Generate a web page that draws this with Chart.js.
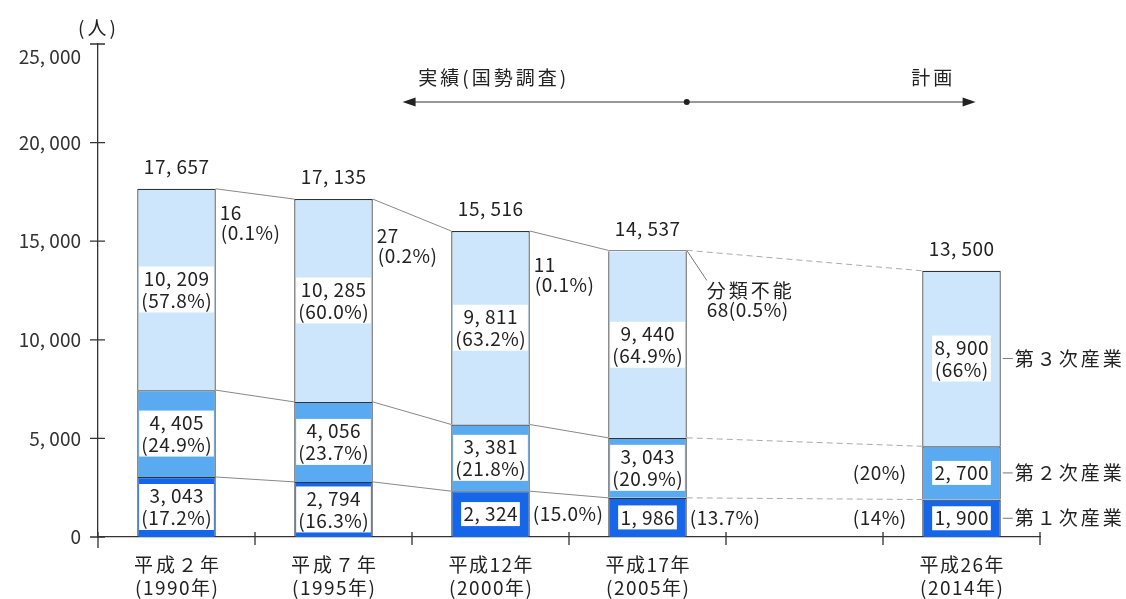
<!DOCTYPE html>
<html lang="ja">
<head>
<meta charset="utf-8">
<title>産業別就業者数の推移</title>
<script src="https://cdn.jsdelivr.net/npm/chart.js@4.4.1/dist/chart.umd.min.js"></script>
<style>
  html, body { margin: 0; padding: 0; background: #fff; }
  #wrap { width: 1126px; height: 599px; position: relative; }
</style>
</head>
<body>
<div id="wrap"><canvas id="workersChart"></canvas></div>
<script>
// 年次（5番目は実績と計画の間の空き）
const years = [["平成２年", "(1990年)"], ["平成７年", "(1995年)"], ["平成12年", "(2000年)"], ["平成17年", "(2005年)"], "", ["平成26年", "(2014年)"]];
// 産業別就業者数（人）
const primary = [3043, 2794, 2324, 1986, null, 1900];
const secondary = [4405, 4056, 3381, 3043, null, 2700];
const tertiary = [10209, 10285, 9811, 9440, null, 8900];
const unclassified = [null, null, null, 68, null, null];
const totals = [17657, 17135, 15516, 14537, null, 13500];
// 構成比
const primaryShare = ["17.2%", "16.3%", "15.0%", "13.7%", null, "14%"];
const secondaryShare = ["24.9%", "23.7%", "21.8%", "20.9%", null, "20%"];
const tertiaryShare = ["57.8%", "60.0%", "63.2%", "64.9%", null, "66%"];
// 分類不能
const unclassifiedCount = [16, 27, 11, 68];
const unclassifiedShare = ["0.1%", "0.2%", "0.1%", "0.5%"];
const industryNames = ["第１次産業", "第２次産業", "第３次産業"];
const yTicks = [0, 5000, 10000, 15000, 20000, 25000];

const PLAN = 5;
const FONT = '"Noto Sans CJK JP", "Noto Sans", sans-serif';
const fmt = v => v.toLocaleString("en-US").replace(",", ", ");

function drawText(ctx, str, x, y, opt = {}) {
  const size = opt.size || 19, sp = opt.spacing || 0, align = opt.align || "center";
  ctx.font = `${size}px ${FONT}`;
  ctx.letterSpacing = sp + "px";
  ctx.textAlign = align;
  ctx.textBaseline = "middle";
  ctx.fillStyle = opt.color || "#222";
  const dx = align === "center" ? sp / 2 : align === "right" ? sp : 0;
  ctx.fillText(str, x + dx, y);
}

// 白抜きの数値ラベル
function boxedLines(ctx, lines, cx, cy) {
  ctx.font = `19px ${FONT}`;
  ctx.letterSpacing = "0.5px";
  const w = Math.max(...lines.map(l => ctx.measureText(l).width)) + 4;
  const lh = 22, h = lines.length * lh + 2;
  ctx.fillStyle = "#fff";
  ctx.fillRect(cx - w / 2, cy - h / 2, w, h);
  lines.forEach((l, k) => drawText(ctx, l, cx, cy - (lines.length - 1) * lh / 2 + k * lh, {spacing: 0.5}));
}

// 構成比を棒の外に出す箇所
const shareOutside = {0: {2: "right", 3: "right", 5: "left"}, 1: {5: "left"}};
const noteDrop = [24, 37, 34];

function stackTop(chart, i) {
  let sum = 0;
  chart.data.datasets.forEach(ds => { sum += ds.data[i] || 0; });
  return chart.scales.y.getPixelForValue(sum);
}

const annotations = {
  id: "annotations",
  beforeDatasetsDraw(chart) {
    const {ctx} = chart;
    const bar = (d, i) => chart.getDatasetMeta(d).data[i];
    const order = [0, 1, 2, 3, PLAN];
    ctx.save();
    ctx.lineWidth = 1;
    for (let k = 0; k < order.length - 1; k++) {
      const a = order[k], b = order[k + 1];
      const plan = b === PLAN;
      ctx.strokeStyle = plan ? "#aaa" : "#888";
      ctx.setLineDash(plan ? [6, 4] : []);
      const xa = bar(0, a).x + bar(0, a).width / 2;
      const xb = bar(0, b).x - bar(0, b).width / 2;
      const levels = [[bar(0, a).y, bar(0, b).y], [bar(1, a).y, bar(1, b).y], [stackTop(chart, a), stackTop(chart, b)]];
      levels.forEach(([ya, yb]) => {
        ctx.beginPath();
        ctx.moveTo(xa, ya);
        ctx.lineTo(xb, yb);
        ctx.stroke();
      });
    }
    ctx.restore();
  },
  afterDraw(chart) {
    const {ctx, chartArea: area, scales: {x: xs, y: ys}} = chart;
    const bar = (d, i) => chart.getDatasetMeta(d).data[i];
    ctx.save();

    // 軸の目盛と縦軸ラベル（最上段は単位表示の下にずらす）
    ctx.strokeStyle = "#333";
    ctx.lineWidth = 1.3;
    ctx.beginPath();
    ctx.moveTo(area.left, area.bottom);
    ctx.lineTo(area.left, area.bottom + 11);
    yTicks.forEach(v => {
      const py = ys.getPixelForValue(v);
      ctx.moveTo(area.left - 8, py);
      ctx.lineTo(area.left + 7, py);
    });
    for (let i = 0; i <= years.length; i++) {
      const px = xs.getPixelForValue(i - 0.5);
      ctx.moveTo(px, area.bottom - 5);
      ctx.lineTo(px, area.bottom + 8);
    }
    ctx.stroke();
    yTicks.forEach(v => {
      const py = Math.max(ys.getPixelForValue(v), area.top + 13);
      drawText(ctx, fmt(v), area.left - 17, py, {align: "right", color: "#333"});
    });

    // 年次ラベル
    years.forEach((lines, i) => {
      if (!lines) return;
      const px = xs.getPixelForValue(i);
      drawText(ctx, lines[0], px, 565, {spacing: /[0-9]/.test(lines[0]) ? 1.5 : 3});
      drawText(ctx, lines[1], px, 588, {spacing: 1.5});
    });

    drawText(ctx, "(人)", area.left - 1, 28, {spacing: 3});

    // 数値と構成比
    const series = [[primary, primaryShare], [secondary, secondaryShare], [tertiary, tertiaryShare]];
    series.forEach(([vals, shares], d) => {
      vals.forEach((v, i) => {
        if (v == null) return;
        const el = bar(d, i);
        const cy = (el.y + el.base) / 2;
        const side = (shareOutside[d] || {})[i];
        const share = `(${shares[i]})`;
        if (side) {
          boxedLines(ctx, [fmt(v)], el.x, cy);
          if (side === "right") drawText(ctx, share, el.x + el.width / 2 + 3, cy, {align: "left", spacing: 0.5});
          else drawText(ctx, share, el.x - el.width / 2 - 16, cy, {align: "right", spacing: 0.5});
        } else {
          boxedLines(ctx, [fmt(v), share], el.x, cy);
        }
      });
    });

    // 合計
    totals.forEach((t, i) => {
      if (t == null) return;
      drawText(ctx, fmt(t), bar(0, i).x, stackTop(chart, i) - 22, {spacing: 0.5});
    });

    // 分類不能の注記
    unclassifiedCount.forEach((n, i) => {
      const el = bar(0, i);
      const right = el.x + el.width / 2;
      const top = stackTop(chart, i);
      if (i < 3) {
        drawText(ctx, String(n), right + 4, top + noteDrop[i], {align: "left", spacing: 0.5});
        drawText(ctx, `(${unclassifiedShare[i]})`, right + 5, top + noteDrop[i] + 20, {align: "left", spacing: 0.5});
      } else {
        ctx.strokeStyle = "#777";
        ctx.lineWidth = 1;
        ctx.beginPath();
        ctx.moveTo(right, top);
        ctx.lineTo(right + 20, top + 30);
        ctx.stroke();
        drawText(ctx, "分類不能", right + 20, top + 40, {align: "left", spacing: 3});
        drawText(ctx, `${n}(${unclassifiedShare[i]})`, right + 20, top + 59, {align: "left", spacing: 0.5});
      }
    });

    // 産業名
    industryNames.forEach((name, d) => {
      const el = bar(d, PLAN);
      const cy = (el.y + el.base) / 2;
      const right = el.x + el.width / 2;
      ctx.strokeStyle = "#777";
      ctx.lineWidth = 1;
      ctx.beginPath();
      ctx.moveTo(right + 2, cy);
      ctx.lineTo(right + 12, cy);
      ctx.stroke();
      drawText(ctx, name, right + 14, cy, {align: "left", spacing: 3});
    });

    // 実績・計画の矢印
    const ay = 102;
    const x0 = xs.getPixelForValue(1.44), x1 = xs.getPixelForValue(5.09);
    const xm = bar(0, 3).x + bar(0, 3).width / 2;
    ctx.strokeStyle = "#333";
    ctx.fillStyle = "#222";
    ctx.lineWidth = 1.2;
    ctx.beginPath();
    ctx.moveTo(x0 + 6, ay);
    ctx.lineTo(x1 - 6, ay);
    ctx.stroke();
    ctx.beginPath();
    ctx.moveTo(x0, ay); ctx.lineTo(x0 + 13, ay - 4.5); ctx.lineTo(x0 + 13, ay + 4.5); ctx.closePath();
    ctx.moveTo(x1, ay); ctx.lineTo(x1 - 13, ay - 4.5); ctx.lineTo(x1 - 13, ay + 4.5); ctx.closePath();
    ctx.fill();
    ctx.beginPath();
    ctx.arc(xm, ay, 3, 0, Math.PI * 2);
    ctx.fill();
    drawText(ctx, "実績(国勢調査)", xs.getPixelForValue(1.54), 78, {align: "left", spacing: 3});
    drawText(ctx, "計画", xs.getPixelForValue(4.68), 78, {align: "left", spacing: 3});

    ctx.restore();
  }
};

// 積み上げの境目が一本線になるよう下辺の枠線は省く
const edge = {top: 1.2, left: 1.2, right: 1.2, bottom: 0};
const barStyle = {
  borderColor: "#333",
  borderWidth: edge,
  borderSkipped: false,
  categoryPercentage: 1,
  barPercentage: 0.5
};

new Chart(document.getElementById("workersChart"), {
  type: "bar",
  data: {
    labels: years,
    datasets: [
      {label: "第１次産業", data: primary, backgroundColor: "#1666ea", ...barStyle},
      {label: "第２次産業", data: secondary, backgroundColor: "#5aaaf2", ...barStyle},
      {label: "第３次産業", data: tertiary, backgroundColor: "#cde6fb", ...barStyle,
        // 分類不能が上に載る年は上辺を描かない
        borderWidth: c => unclassified[c.dataIndex] != null ? {...edge, top: 0} : edge},
      {label: "分類不能", data: unclassified, backgroundColor: "#cde6fb", ...barStyle}
    ]
  },
  options: {
    responsive: true,
    maintainAspectRatio: false,
    animation: false,
    devicePixelRatio: 1,
    layout: {padding: {top: 44, right: 86, bottom: 0, left: 0}},
    plugins: {legend: {display: false}, tooltip: {enabled: false}},
    scales: {
      x: {
        stacked: true,
        grid: {display: false, drawTicks: false},
        border: {color: "#333", width: 1.3},
        ticks: {display: false},
        afterFit: s => { s.height = 62; }
      },
      y: {
        stacked: true,
        min: 0,
        max: 25000,
        grid: {display: false, drawTicks: false},
        border: {color: "#333", width: 1.3},
        ticks: {display: false},
        afterBuildTicks: s => { s.ticks = yTicks.map(v => ({value: v})); },
        afterFit: s => { s.width = 98; }
      }
    }
  },
  plugins: [annotations]
});
</script>
</body>
</html>
